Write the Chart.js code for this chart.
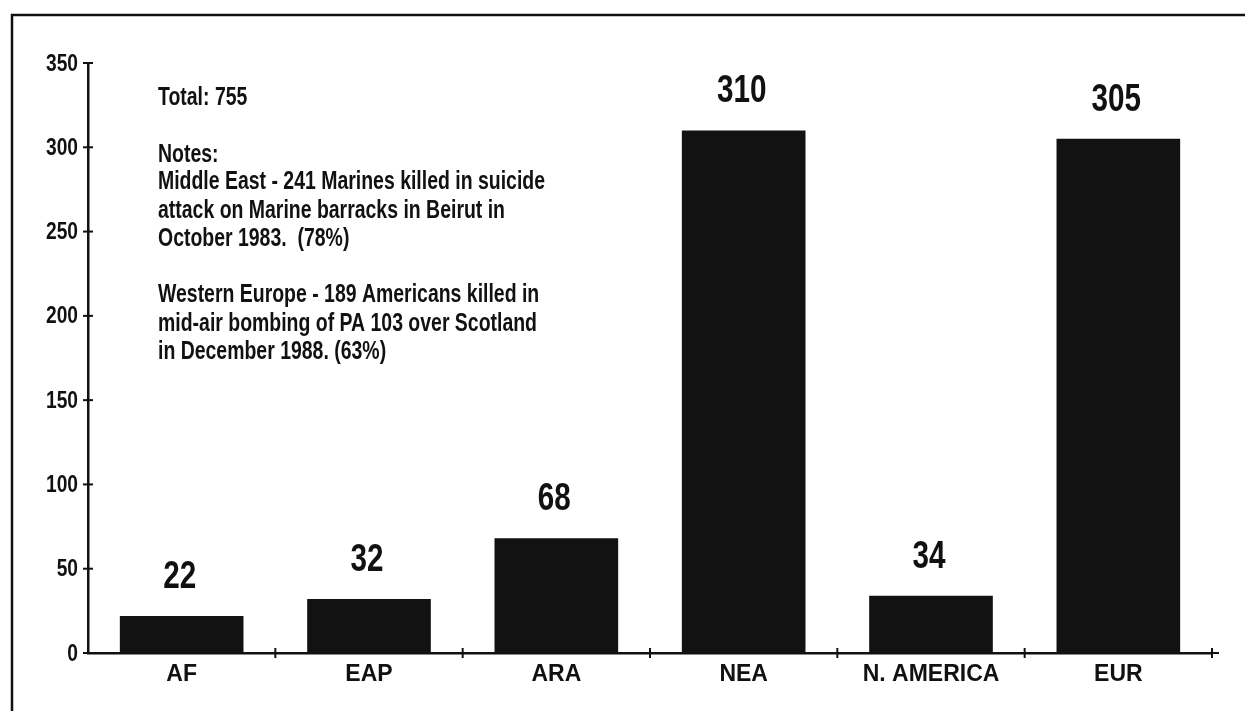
<!DOCTYPE html>
<html>
<head>
<meta charset="utf-8">
<script src="https://cdn.jsdelivr.net/npm/chart.js@4.4.1/dist/chart.umd.min.js"></script>
<style>
  html, body { margin: 0; padding: 0; background: #fff; }
  #wrap { width: 1245px; height: 711px; position: relative; }
</style>
</head>
<body>
<div id="wrap"><canvas id="chart"></canvas></div>
<script>
// --- dane ---
const regions = ["AF", "EAP", "ARA", "NEA", "N. AMERICA", "EUR"];
const deaths = [22, 32, 68, 310, 34, 305];
const yTicks = [0, 50, 100, 150, 200, 250, 300, 350];

const totalLine = "Total: 755";
const notesTitle = "Notes:";
const noteMiddleEast = [
    "Middle East - 241 Marines killed in suicide",
    "attack on Marine barracks in Beirut in",
    "October 1983.  (78%)"
];
const noteEurope = [
    "Western Europe - 189 Americans killed in",
    "mid-air bombing of PA 103 over Scotland",
    "in December 1988. (63%)"
];

const FONT = '"Liberation Sans", Arial, sans-serif';

// tekst ściśnięty poziomo (imitacja kroju "condensed")
function drawCondensed(ctx, text, x, y, sx, align) {
    ctx.save();
    ctx.translate(x, y);
    ctx.scale(sx, 1);
    ctx.textAlign = align;
    ctx.fillText(text, 0, 0);
    ctx.restore();
}

// ramka (góra + lewa krawędź) i notatki
const framePlugin = {
    id: 'frame',
    beforeDraw(chart) {
        const ctx = chart.ctx;
        ctx.save();
        ctx.strokeStyle = '#111';
        ctx.lineWidth = 2.5;
        ctx.beginPath();
        ctx.moveTo(1245, 15);
        ctx.lineTo(12, 15);
        ctx.lineTo(12, 711);
        ctx.stroke();
        ctx.restore();
    },
    afterDraw(chart) {
        const ctx = chart.ctx;
        ctx.save();
        ctx.fillStyle = '#111';
        ctx.font = 'bold 25px ' + FONT;
        ctx.textBaseline = 'alphabetic';
        const sx = 387 / ctx.measureText(noteMiddleEast[0]).width;
        const x0 = 158;
        drawCondensed(ctx, totalLine, x0, 105, sx, 'left');
        drawCondensed(ctx, notesTitle, x0, 162, sx, 'left');
        noteMiddleEast.forEach((t, i) => drawCondensed(ctx, t, x0, 189 + i * 28.5, sx, 'left'));
        noteEurope.forEach((t, i) => drawCondensed(ctx, t, x0, 302 + i * 28.5, sx, 'left'));
        ctx.restore();
    }
};

// krzyżyki na osiach + etykiety osi Y
const axisTicksPlugin = {
    id: 'axisTicks',
    afterDraw(chart) {
        const ctx = chart.ctx;
        const x = chart.scales.x;
        const y = chart.scales.y;
        ctx.save();
        ctx.strokeStyle = '#111';
        ctx.fillStyle = '#111';
        ctx.lineWidth = 2;
        ctx.font = 'bold 24px ' + FONT;
        ctx.textBaseline = 'middle';
        yTicks.forEach(v => {
            const py = y.getPixelForValue(v);
            ctx.beginPath();
            ctx.moveTo(x.left - 5, py);
            ctx.lineTo(x.left + 5, py);
            ctx.stroke();
            drawCondensed(ctx, String(v), x.left - 10, py + 1, 0.8, 'right');
        });
        const step = (x.right - x.left) / regions.length;
        for (let i = 1; i <= regions.length; i++) {
            const px = x.left + i * step;
            ctx.beginPath();
            ctx.moveTo(px, y.bottom - 5);
            ctx.lineTo(px, y.bottom + 5);
            ctx.stroke();
        }
        // oś X lekko wystaje za ostatni znacznik
        ctx.beginPath();
        ctx.moveTo(x.right, y.bottom);
        ctx.lineTo(x.right + 7, y.bottom);
        ctx.stroke();
        ctx.restore();
    }
};

// wartości nad słupkami
const valueLabelsPlugin = {
    id: 'valueLabels',
    afterDatasetsDraw(chart) {
        const ctx = chart.ctx;
        const meta = chart.getDatasetMeta(0);
        ctx.save();
        ctx.fillStyle = '#111';
        ctx.font = 'bold 38px ' + FONT;
        ctx.textBaseline = 'alphabetic';
        meta.data.forEach((bar, i) => {
            drawCondensed(ctx, String(deaths[i]), bar.x - 2, bar.y - 28, 0.78, 'center');
        });
        ctx.restore();
    }
};

new Chart(document.getElementById('chart'), {
    type: 'bar',
    data: {
        labels: regions,
        datasets: [{
            data: deaths,
            backgroundColor: '#121212',
            borderWidth: 0,
            categoryPercentage: 1,
            barPercentage: 0.66
        }]
    },
    options: {
        responsive: true,
        maintainAspectRatio: false,
        animation: false,
        layout: { padding: { top: 63, right: 33, bottom: 0, left: 0 } },
        plugins: { legend: { display: false }, tooltip: { enabled: false } },
        scales: {
            y: {
                min: 0,
                max: 350,
                afterBuildTicks: s => { s.ticks = yTicks.map(v => ({ value: v })); },
                afterFit: s => { s.width = 88; },
                grid: { display: true, drawOnChartArea: false, drawTicks: false },
                border: { display: true, color: '#111', width: 2.5 },
                ticks: { display: false }
            },
            x: {
                afterFit: s => { s.height = 58; },
                grid: { display: true, drawOnChartArea: false, drawTicks: false },
                border: { display: true, color: '#111', width: 2.5 },
                ticks: {
                    color: '#111',
                    padding: 8,
                    font: { family: FONT, size: 23, weight: 'bold' }
                }
            }
        }
    },
    plugins: [framePlugin, axisTicksPlugin, valueLabelsPlugin]
});
</script>
</body>
</html>
